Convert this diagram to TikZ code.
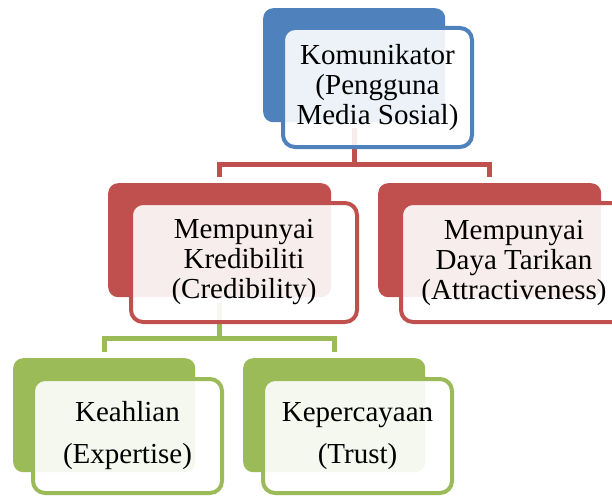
\documentclass[tikz,border=0pt]{standalone}
\usepackage{fontspec}
\setmainfont{Liberation Serif}
\usetikzlibrary{calc}
\usetikzlibrary{positioning}
\definecolor{accblue}{HTML}{4F81BD}
\definecolor{accred}{HTML}{C0504D}
\definecolor{accgreen}{HTML}{9BBB59}
\tikzset{
  backbox/.style={rectangle, rounded corners=10pt, fill=#1, anchor=north west,
    inner sep=0pt, minimum width=182pt, minimum height=114pt},
  frontbox/.style={rectangle, rounded corners=12pt, draw=#1, line width=4pt,
    fill=white, fill opacity=0.9, text opacity=1, align=center, inner sep=0pt,
    minimum width=189pt, minimum height=119pt, font=\fontsize{29}{30}\selectfont},
  linkline/.style={draw=#1, line width=5pt, shorten <=6pt, shorten >=6pt},
}
\begin{document}
\begin{tikzpicture}[x=1pt,y=-1pt]
  \useasboundingbox (0,0) rectangle (612,495);

  \node [backbox=accblue] (kombg) at (263,8) {};
  \node [backbox=accred, minimum width=223pt] (kredbg) at (108,183) {};
  \node [backbox=accred, minimum width=223pt] (tarikbg) at (378,183) {};
  \node [backbox=accgreen] (ahlibg) at (13,358) {};
  \node [backbox=accgreen] (percayabg) at (243,358) {};

  \draw [linkline=accred] (kombg.south) -- ++(0,-42pt) -| (kredbg.north);
  \draw [linkline=accred] (kombg.south) -- ++(0,-42pt) -| (tarikbg.north);
  \draw [linkline=accgreen] (kredbg.south) -- ++(0,-41pt) -| (ahlibg.north);
  \draw [linkline=accgreen] (kredbg.south) -- ++(0,-41pt) -| (percayabg.north);

  \node [frontbox=accblue, below right=18pt and 18pt of kombg.north west] (kom) {
    Komunikator\\(Pengguna\\Media Sosial)
  };

  \node [frontbox=accred, minimum width=226pt,
  below right=18pt and 21pt of kredbg.north west] (kred) {
    Mempunyai\\Kredibiliti\\(Credibility)
  };

  \node [frontbox=accred, minimum width=226pt,
  below right=18pt and 21pt of tarikbg.north west] (tarik) {
    Mempunyai\\Daya Tarikan\\(Attractiveness)
  };

  % lower level is set with wider line spacing
  \node [frontbox=accgreen, minimum height=114pt, font=\fontsize{29}{42}\selectfont,
  below right=19pt and 18pt of ahlibg.north west] (ahli) {
    Keahlian\\(Expertise)
  };

  \node [frontbox=accgreen, minimum height=114pt, font=\fontsize{29}{42}\selectfont,
  below right=19pt and 18pt of percayabg.north west] (percaya) {
    Kepercayaan\\(Trust)
  };
\end{tikzpicture}
\end{document}
